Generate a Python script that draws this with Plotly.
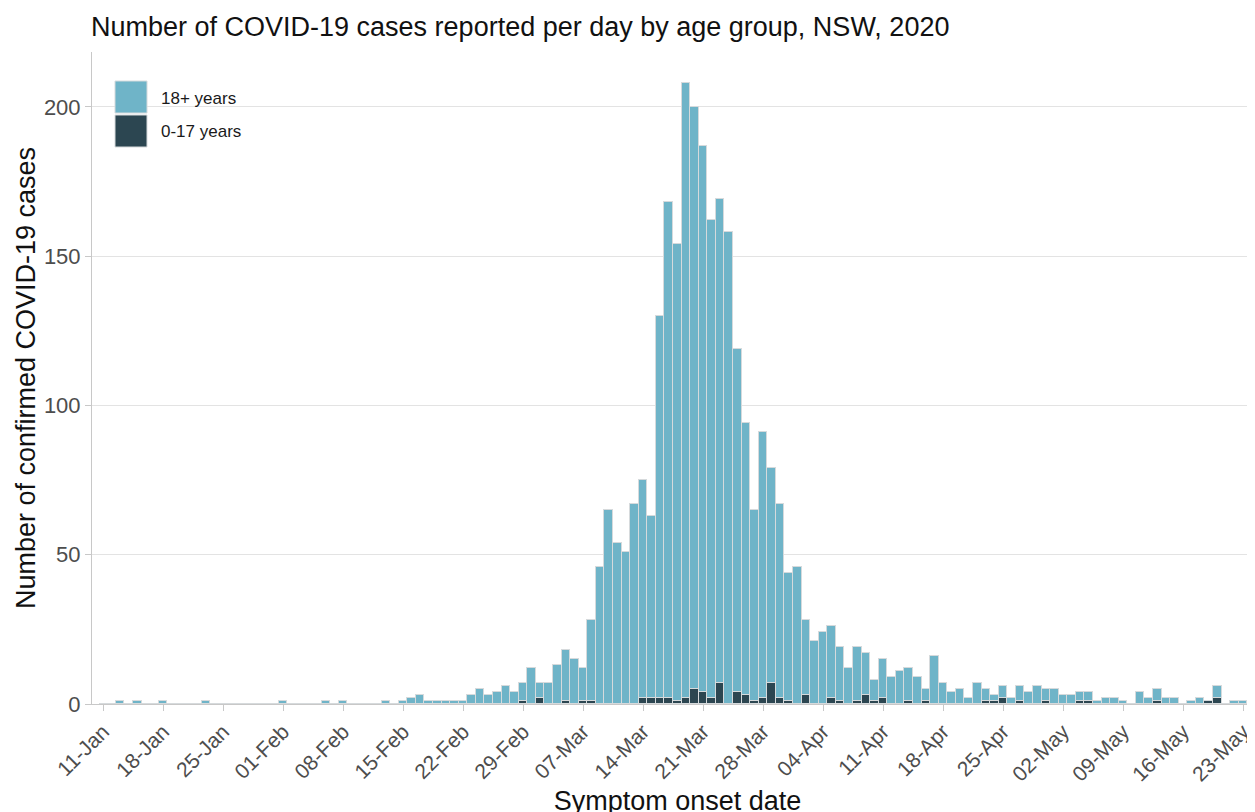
import pandas as pd
import plotly.graph_objects as go

# Symptom onset dates (one bar per day)
onset_dates = pd.date_range("2020-01-11", "2020-05-23", freq="D")

# Cases aged 18+ years, per day (from 11-Jan)
cases_18plus = [
    0, 0, 1, 0, 1, 0, 0, 1, 0, 0,      # 11-20 Jan
    0, 0, 1, 0, 0, 0, 0, 0, 0, 0,      # 21-30 Jan
    0, 1, 0, 0, 0, 0, 1, 0, 1, 0,      # 31 Jan - 09 Feb
    0, 0, 0, 1, 0, 1, 2, 3, 1, 1,      # 10-19 Feb
    1, 1, 1, 3, 5, 3, 4, 6, 4, 6,      # 20-29 Feb
    12, 5, 7, 13, 17, 15, 11, 27, 46, 65,   # 01-10 Mar
    54, 51, 67, 73, 61, 128, 166, 153, 206, 195,  # 11-20 Mar
    183, 160, 162, 158, 115, 91, 64, 89, 72, 65,  # 21-30 Mar
    43, 46, 25, 21, 24, 24, 18, 12, 18, 14,  # 31 Mar - 09 Apr
    7, 13, 9, 11, 11, 9, 4, 16, 7, 4,   # 10-19 Apr
    5, 2, 7, 4, 2, 4, 2, 5, 4, 6,       # 20-29 Apr
    4, 5, 3, 3, 3, 3, 1, 2, 2, 1,       # 30 Apr - 09 May
    0, 4, 2, 4, 2, 2, 0, 1, 2, 0,       # 10-19 May
    4, 0, 1, 1,                         # 20-23 May
]

# Cases aged 0-17 years, per day (from 11-Jan)
cases_0_17 = [
    0, 0, 0, 0, 0, 0, 0, 0, 0, 0,
    0, 0, 0, 0, 0, 0, 0, 0, 0, 0,
    0, 0, 0, 0, 0, 0, 0, 0, 0, 0,
    0, 0, 0, 0, 0, 0, 0, 0, 0, 0,
    0, 0, 0, 0, 0, 0, 0, 0, 0, 1,
    0, 2, 0, 0, 1, 0, 1, 1, 0, 0,
    0, 0, 0, 2, 2, 2, 2, 1, 2, 5,
    4, 2, 7, 0, 4, 3, 1, 2, 7, 2,
    1, 0, 3, 0, 0, 2, 1, 0, 1, 3,
    1, 2, 0, 0, 1, 0, 1, 0, 0, 0,
    0, 0, 0, 1, 1, 2, 0, 1, 0, 0,
    1, 0, 0, 0, 1, 1, 0, 0, 0, 0,
    0, 0, 0, 1, 0, 0, 0, 0, 0, 1,
    2, 0, 0, 0,
]

series_names = ["18+ years", "0-17 years"]
series_colors = ["#6fb4c8", "#2c4651"]
bar_outline = "#d6dadc"

title_text = "Number of COVID-19 cases reported per day by age group, NSW, 2020"
x_title = "Symptom onset date"
y_title = "Number of confirmed COVID-19 cases"
y_ticks = [0, 50, 100, 150, 200]

FONT = "Liberation Sans, Arial, sans-serif"
DAY_MS = 86400000

fig = go.Figure()
fig.add_trace(go.Bar(
    x=onset_dates, y=cases_0_17, name=series_names[1],
    marker=dict(color=series_colors[1], line=dict(color=bar_outline, width=1)),
    width=DAY_MS, showlegend=False,
))
fig.add_trace(go.Bar(
    x=onset_dates, y=cases_18plus, name=series_names[0],
    marker=dict(color=series_colors[0], line=dict(color=bar_outline, width=1)),
    width=DAY_MS, showlegend=False,
))

OFF = 8  # page body margin in the browser
W, H = 1255, 812
L, T = 92 - OFF, 52 - OFF
B = H - (704 - OFF)
R = 0
pw, ph = W - L - R, H - T - B

def px_x(sx):
    return (sx - OFF - L) / pw

def px_y(sy):
    return (H - B - (sy - OFF)) / ph

shapes = []
annotations = []
key_rows = [(81, 113), (115, 147)]
for (top, bot), name, col in zip(key_rows, series_names, series_colors):
    shapes.append(dict(type="rect", xref="paper", yref="paper",
                       x0=px_x(115), x1=px_x(147), y0=px_y(bot), y1=px_y(top),
                       fillcolor=col, line=dict(color=bar_outline, width=1)))
    annotations.append(dict(xref="paper", yref="paper", x=px_x(159),
                            y=px_y((top + bot) / 2 + 1), text=name, showarrow=False,
                            xanchor="left", yanchor="middle",
                            font=dict(family=FONT, size=17, color="#1a1a1a")))

fig.update_layout(
    width=W, height=H,
    margin=dict(l=L, r=R, t=T, b=B, autoexpand=False),
    paper_bgcolor="white", plot_bgcolor="white",
    barmode="stack", bargap=0,
    font=dict(family=FONT, color="#1a1a1a"),
    title=dict(text=title_text, x=(91 - OFF) / W, xref="container",
               xanchor="left", y=1 - (27 - OFF) / H, yref="container", yanchor="middle",
               font=dict(family=FONT, size=27, color="#111111")),
    shapes=shapes,
    annotations=annotations,
    showlegend=False,
)

fig.update_xaxes(
    type="date",
    range=["2020-01-09 17:12", "2020-05-25 08:00"],
    tick0="2020-01-11", dtick=7 * DAY_MS, tickformat="%d-%b",
    tickangle=-45, ticks="outside", ticklen=6, tickcolor="#c8c8c8",
    tickfont=dict(family=FONT, size=21, color="#4d4d4d"),
    showline=True, linecolor="#c8c8c8", linewidth=1,
    showgrid=False, zeroline=False,
    title=dict(text=x_title, standoff=6,
               font=dict(family=FONT, size=27, color="#111111")),
)
fig.update_yaxes(
    range=[0, 218.4], tickvals=y_ticks,
    ticks="outside", ticklen=6, tickcolor="#c8c8c8",
    tickfont=dict(family=FONT, size=22, color="#4d4d4d"),
    showline=True, linecolor="#c8c8c8", linewidth=1,
    showgrid=True, gridcolor="#e3e3e3", gridwidth=1, zeroline=False,
    title=dict(text=y_title, standoff=0,
               font=dict(family=FONT, size=27, color="#111111")),
)

fig.write_html("out.html")
